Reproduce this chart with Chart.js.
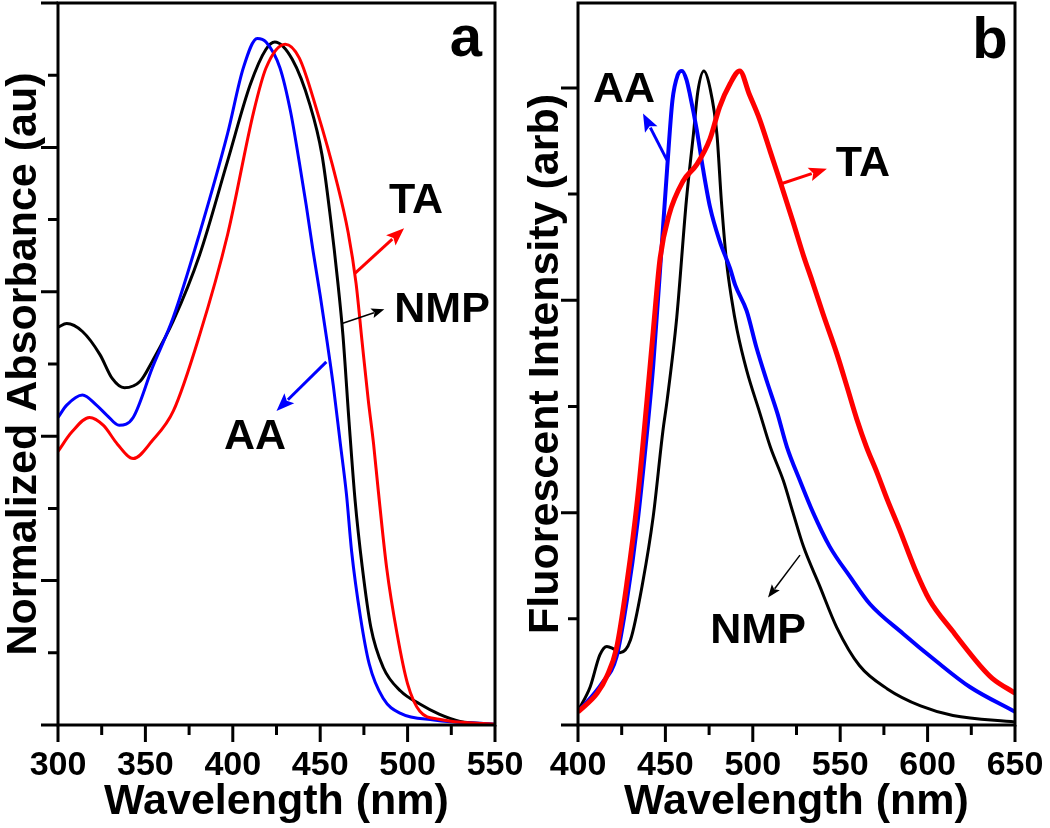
<!DOCTYPE html>
<html>
<head>
<meta charset="utf-8">
<script src="https://cdn.jsdelivr.net/npm/chart.js@4.4.1/dist/chart.umd.min.js"></script>
<style>
  html, body { margin: 0; padding: 0; background: #fff; }
  #wrap { position: relative; width: 1050px; height: 828px; }
  #wrap canvas { position: absolute; left: 0; top: 0; }
</style>
</head>
<body>
<div id="wrap">
  <canvas id="absChart" width="1050" height="828"></canvas>
  <canvas id="flChart" width="1050" height="828"></canvas>
</div>
<script>
// ---- panel a: absorbance ----
const absWlNMP = [300, 305, 314, 324, 331, 338, 347, 354, 366, 381, 397, 410, 419, 424, 434, 444, 451, 456, 460, 463, 466.5, 470, 474, 479, 486, 496, 507, 518, 530, 550];
const absNMP   = [0.551, 0.556, 0.545, 0.513, 0.480, 0.467, 0.476, 0.504, 0.560, 0.651, 0.781, 0.887, 0.936, 0.946, 0.922, 0.860, 0.790, 0.700, 0.615, 0.540, 0.420, 0.310, 0.220, 0.135, 0.080, 0.047, 0.029, 0.015, 0.005, 0.001];

const absWlAA = [300, 305, 314, 322, 328, 335, 343, 354, 366, 381, 397, 406, 414, 419, 427, 433, 438, 442, 446, 450, 454, 457.5, 461.5, 465, 468, 473, 478, 486, 496, 515, 550];
const absAA   = [0.426, 0.443, 0.457, 0.443, 0.429, 0.415, 0.426, 0.495, 0.565, 0.681, 0.819, 0.910, 0.951, 0.946, 0.910, 0.850, 0.780, 0.720, 0.655, 0.595, 0.530, 0.470, 0.390, 0.320, 0.240, 0.150, 0.085, 0.037, 0.016, 0.007, 0.001];

const absWlTA = [300, 308, 318, 326, 334, 343, 354, 366, 381, 397, 412, 419, 430, 438, 448, 459.5, 466, 470.5, 474, 477.5, 480.5, 483, 488, 494, 500, 507, 518, 550];
const absTA   = [0.379, 0.406, 0.426, 0.415, 0.389, 0.369, 0.394, 0.435, 0.540, 0.679, 0.850, 0.910, 0.943, 0.924, 0.852, 0.752, 0.682, 0.612, 0.530, 0.450, 0.390, 0.330, 0.218, 0.126, 0.057, 0.019, 0.008, 0.001];

const absXTicks = [300, 350, 400, 450, 500, 550];
const absXMinor = [325, 375, 425, 475, 525];
const absYMajor = [0, 0.2, 0.4, 0.6, 0.8, 1.0];
const absYMinor = [0.1, 0.3, 0.5, 0.7, 0.9];

// ---- panel b: fluorescence ----
const flWlNMP = [400, 407, 412.5, 416.5, 420, 424, 430, 437, 443, 448.5, 451, 456.5, 462, 466, 468.5, 472, 475.5, 479.5, 482, 485, 488, 491, 496.5, 504, 510, 517.5, 523, 529, 538, 548, 561, 577, 596, 614.5, 650];
const flNMP   = [0.066, 0.18, 0.33, 0.37, 0.36, 0.34, 0.40, 0.67, 0.98, 1.38, 1.53, 1.92, 2.47, 2.78, 2.98, 3.08, 3.00, 2.78, 2.47, 2.18, 2.00, 1.86, 1.67, 1.47, 1.31, 1.15, 1.00, 0.84, 0.66, 0.46, 0.28, 0.17, 0.09, 0.045, 0.014];

const flWlAA = [400, 414, 422, 428, 434, 439.5, 443, 447, 451, 454, 457, 459.5, 462, 464, 468, 471.5, 475.5, 481, 487, 490, 496.5, 502, 508, 514, 519.5, 527, 534.5, 544, 555.5, 567, 586, 605, 624, 650];
const flAA   = [0.061, 0.20, 0.32, 0.59, 0.95, 1.38, 1.69, 2.15, 2.62, 2.94, 3.06, 3.08, 3.04, 2.97, 2.80, 2.62, 2.44, 2.28, 2.15, 2.07, 1.95, 1.78, 1.62, 1.47, 1.31, 1.15, 1.00, 0.84, 0.70, 0.57, 0.43, 0.30, 0.18, 0.062];

const flWlTA = [400, 411, 416.5, 422, 428, 434, 439.5, 443, 447, 452, 460, 468, 475.5, 481, 487, 492.5, 498, 504, 510, 516, 523, 529, 534, 540, 548, 554, 559.5, 565, 571, 577, 584, 593, 601, 614.5, 630, 637, 650];
const flTA   = [0.061, 0.15, 0.23, 0.36, 0.67, 1.06, 1.53, 1.85, 2.20, 2.40, 2.56, 2.64, 2.76, 2.91, 3.02, 3.08, 2.97, 2.85, 2.70, 2.55, 2.37, 2.21, 2.09, 1.94, 1.75, 1.59, 1.44, 1.31, 1.19, 1.06, 0.92, 0.73, 0.59, 0.44, 0.28, 0.22, 0.15];

const flXTicks = [400, 450, 500, 550, 600, 650];
const flXMinor = [425, 475, 525, 575, 625];
const flYMajor = [0, 1, 2, 3];
const flYMinor = [0.5, 1.5, 2.5];

const FONT = "'Liberation Sans', Arial, Helvetica, sans-serif";
Chart.defaults.font.family = FONT;
Chart.defaults.color = '#000';

const pts = (xs, ys) => xs.map((x, i) => ({ x: x, y: ys[i] }));

function drawArrow(ctx, x0, y0, x1, y1, color, width, head, half) {
  const ang = Math.atan2(y1 - y0, x1 - x0);
  const c = Math.cos(ang), s = Math.sin(ang);
  const bx = x1 - head * c, by = y1 - head * s;
  ctx.strokeStyle = color;
  ctx.fillStyle = color;
  ctx.lineWidth = width;
  ctx.beginPath();
  ctx.moveTo(x0, y0);
  ctx.lineTo(bx + 2 * c, by + 2 * s);
  ctx.stroke();
  ctx.beginPath();
  ctx.moveTo(x1, y1);
  ctx.lineTo(bx - half * s, by + half * c);
  ctx.lineTo(x1 - head * 0.8 * c, y1 - head * 0.8 * s);
  ctx.lineTo(bx + half * s, by - half * c);
  ctx.closePath();
  ctx.fill();
}

// frame, outward tick marks and the text/arrow notes
const framePlugin = {
  id: 'frame',
  afterDraw(chart, args, opts) {
    const { ctx, chartArea: a } = chart;
    const x = chart.scales.x, y = chart.scales.y;
    ctx.save();
    ctx.strokeStyle = '#000';
    ctx.lineWidth = 3;
    ctx.strokeRect(a.left, a.top, a.right - a.left, a.bottom - a.top);
    ctx.beginPath();
    opts.xMajor.forEach(v => { const p = x.getPixelForValue(v); ctx.moveTo(p, a.bottom); ctx.lineTo(p, a.bottom + 17); });
    opts.xMinor.forEach(v => { const p = x.getPixelForValue(v); ctx.moveTo(p, a.bottom); ctx.lineTo(p, a.bottom + 10); });
    opts.yMajor.forEach(v => { const p = y.getPixelForValue(v); ctx.moveTo(a.left, p); ctx.lineTo(a.left - 17, p); });
    opts.yMinor.forEach(v => { const p = y.getPixelForValue(v); ctx.moveTo(a.left, p); ctx.lineTo(a.left - 10, p); });
    ctx.stroke();

    opts.arrows.forEach(r => {
      drawArrow(ctx, x.getPixelForValue(r.from[0]), y.getPixelForValue(r.from[1]),
        x.getPixelForValue(r.to[0]), y.getPixelForValue(r.to[1]), r.color, r.width, r.head, r.half);
    });

    ctx.fillStyle = '#000';
    ctx.textAlign = 'center';
    opts.notes.forEach(n => {
      ctx.font = 'bold ' + n.size + 'px ' + FONT;
      ctx.textBaseline = n.base || 'middle';
      ctx.fillText(n.text, x.getPixelForValue(n.at[0]), y.getPixelForValue(n.at[1]));
    });
    ctx.restore();
  }
};

function makeScales(xMin, xMax, xTicks, yMax, yTitle, titlePad) {
  return {
    x: {
      type: 'linear', min: xMin, max: xMax,
      grid: { display: false, drawTicks: true, tickLength: 20 },
      border: { display: false },
      afterBuildTicks: s => { s.ticks = xTicks.map(v => ({ value: v })); },
      ticks: { font: { size: 34, weight: 'bold' }, color: '#000', padding: 0, maxRotation: 0, autoSkip: false },
      title: { display: true, text: 'Wavelength (nm)', font: { size: 43, weight: 'bold' }, color: '#000', padding: 0 },
      afterFit: s => { s.height = 103; s.paddingLeft = 0; s.paddingRight = 0; }
    },
    y: {
      min: 0, max: yMax,
      grid: { display: false, drawTicks: false },
      border: { display: false },
      ticks: { display: false },
      title: { display: true, text: yTitle, font: { size: 43, weight: 'bold' }, color: '#000', padding: { top: titlePad, bottom: 0 } },
      afterFit: s => { s.width = 58; s.paddingTop = 0; s.paddingBottom = 0; }
    }
  };
}

const line = (label, data, color, width) => ({
  label: label, data: data, borderColor: color, backgroundColor: color,
  borderWidth: width, pointRadius: 0, fill: false, cubicInterpolationMode: 'monotone'
});

new Chart(document.getElementById('absChart'), {
  type: 'line',
  data: {
    datasets: [
      line('TA', pts(absWlTA, absTA), '#ff0000', 3),
      line('AA', pts(absWlAA, absAA), '#0000ff', 3),
      line('NMP', pts(absWlNMP, absNMP), '#000000', 3)
    ]
  },
  options: {
    responsive: false,
    animation: false,
    layout: { padding: { top: 3, left: 0, right: 555, bottom: 0 } },
    scales: makeScales(300, 550, absXTicks, 1.0, 'Normalized Absorbance (au)', -2),
    plugins: {
      legend: { display: false },
      tooltip: { enabled: false },
      frame: {
        xMajor: absXTicks, xMinor: absXMinor, yMajor: absYMajor, yMinor: absYMinor,
        arrows: [
          { from: [470, 0.626], to: [498, 0.688], color: '#ff0000', width: 3, head: 18, half: 7 },
          { from: [462.5, 0.556], to: [486.7, 0.576], color: '#000000', width: 1.5, head: 13, half: 5 },
          { from: [453.5, 0.503], to: [425, 0.435], color: '#0000ff', width: 3, head: 18, half: 7 }
        ],
        notes: [
          { text: 'a', at: [533.4, 0.926], size: 58, base: 'alphabetic' },
          { text: 'TA', at: [504.8, 0.726], size: 43 },
          { text: 'NMP', at: [519.7, 0.575], size: 43 },
          { text: 'AA', at: [412.7, 0.399], size: 43 }
        ]
      }
    }
  },
  plugins: [framePlugin]
});

new Chart(document.getElementById('flChart'), {
  type: 'line',
  data: {
    datasets: [
      line('TA', pts(flWlTA, flTA), '#ff0000', 5),
      line('AA', pts(flWlAA, flAA), '#0000ff', 4),
      line('NMP', pts(flWlNMP, flNMP), '#000000', 3)
    ]
  },
  options: {
    responsive: false,
    animation: false,
    layout: { padding: { top: 3, left: 520, right: 35, bottom: 0 } },
    scales: makeScales(400, 650, flXTicks, 3.4, 'Fluorescent Intensity (arb)', 0),
    plugins: {
      legend: { display: false },
      tooltip: { enabled: false },
      frame: {
        xMajor: flXTicks, xMinor: flXMinor, yMajor: flYMajor, yMinor: flYMinor,
        arrows: [
          { from: [450.9, 2.66], to: [437.2, 2.88], color: '#0000ff', width: 3, head: 18, half: 7 },
          { from: [516.7, 2.55], to: [542.4, 2.62], color: '#ff0000', width: 3, head: 18, half: 7 },
          { from: [527, 0.80], to: [508.7, 0.60], color: '#000000', width: 1.5, head: 13, half: 5 }
        ],
        notes: [
          { text: 'b', at: [635.7, 3.14], size: 58, base: 'alphabetic' },
          { text: 'AA', at: [426.3, 2.99], size: 43 },
          { text: 'TA', at: [563, 2.64], size: 43 },
          { text: 'NMP', at: [503, 0.44], size: 43 }
        ]
      }
    }
  },
  plugins: [framePlugin]
});
</script>
</body>
</html>
